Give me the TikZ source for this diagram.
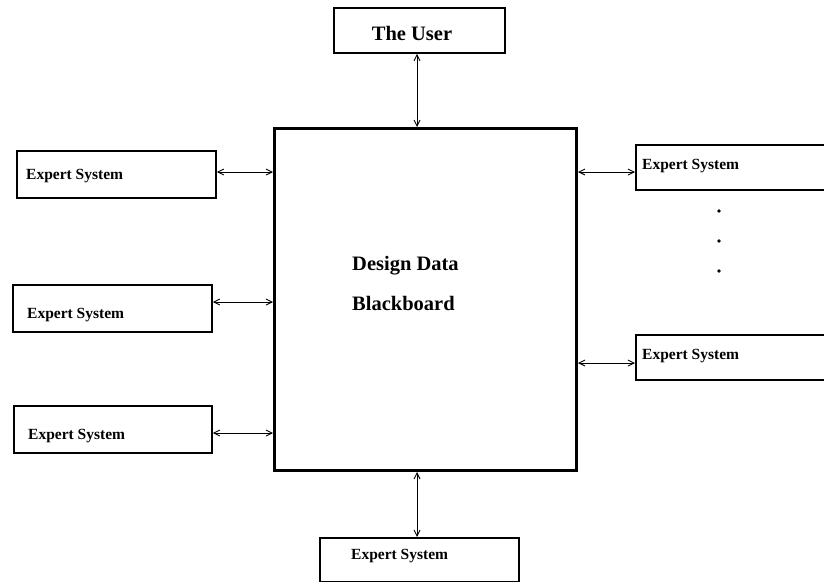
\documentclass[tikz,border=0pt]{standalone}
\usepackage{fontspec}
\setmainfont{Liberation Serif}
\usetikzlibrary{arrows.meta}
\begin{document}
\begin{tikzpicture}[x=1pt,y=-1pt,
  esbox/.style={draw, line width=1.8pt, anchor=north west, inner sep=0pt},
  bigbox/.style={draw, line width=3pt, anchor=north west, inner sep=0pt},
  estext/.style={anchor=west, inner sep=0pt, font=\fontsize{15.5}{18}\selectfont\bfseries},
  bigtext/.style={inner sep=0pt, font=\fontsize{20.5}{24}\selectfont\bfseries},
  link/.style={line width=0.9pt, {Straight Barb[length=6pt,width=6pt]}-{Straight Barb[length=6pt,width=6pt]}}
]
\useasboundingbox (0,0) rectangle (824,582);
\clip (0,0) rectangle (824,582);
% boxes
\node[esbox, minimum width=171, minimum height=45] (user) at (333,7) {};
\node[bigtext] (usertext) at (412,33) {The User};
\node[bigbox, minimum width=302, minimum height=342] (main) at (273,127) {};
\node[bigtext, anchor=west] (dd) at (352,266) {Design Data};
\node[bigtext, anchor=west] (bb) at (352,303) {Blackboard};
\node[esbox, minimum width=199, minimum height=47] (l1) at (16,150) {};
\node[estext] (l1t) at (26,176) {Expert System};
\node[esbox, minimum width=199, minimum height=47] (l2) at (12,284) {};
\node[estext] (l2t) at (27,315) {Expert System};
\node[esbox, minimum width=198, minimum height=47] (l3) at (13,405) {};
\node[estext] (l3t) at (28,436) {Expert System};
\node[esbox, minimum width=199, minimum height=43.5] (bot) at (319,537) {};
\node[estext] (bott) at (351,556) {Expert System};
\node[esbox, minimum width=200, minimum height=45] (r1) at (635,144) {};
\node[estext] (r1t) at (642,166) {Expert System};
\node[esbox, minimum width=200, minimum height=45] (r2) at (635,334) {};
\node[estext] (r2t) at (642,356) {Expert System};
% dots
\foreach \yy/\n in {211/d1,241/d2,271/d3}
  \fill (719,\yy) coordinate (\n) circle (1.8pt);
% connectors
\draw[link] (user.south -| 417,0) -- (main.north -| 417,0);
\draw[link] (main.south -| 417,0) -- (bot.north -| 417,0);
\draw[link] (l1.east |- 0,172) -- (main.west |- 0,172);
\draw[link] (l2.east |- 0,302) -- (main.west |- 0,302);
\draw[link] (l3.east |- 0,433) -- (main.west |- 0,433);
\draw[link] (main.east |- 0,172) -- (r1.west |- 0,172);
\draw[link] (main.east |- 0,363) -- (r2.west |- 0,363);
\end{tikzpicture}
\end{document}
